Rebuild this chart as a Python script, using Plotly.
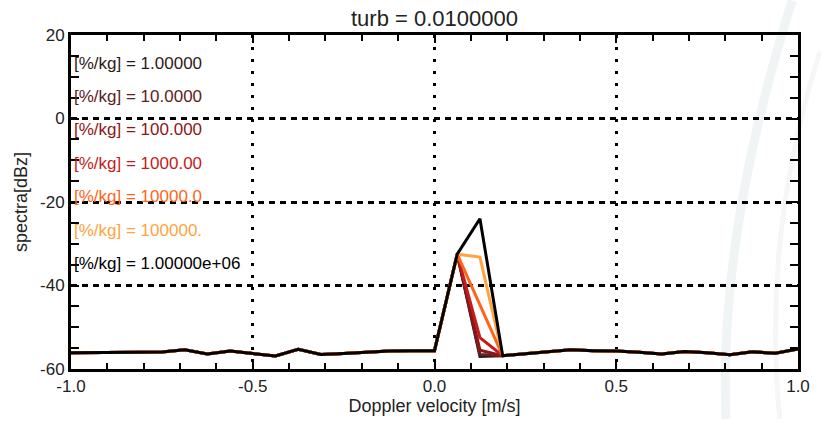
import plotly.graph_objects as go

# ---------------- data ----------------
velocity = [-1.0, -0.9375, -0.875, -0.8125, -0.75, -0.6875, -0.625, -0.5625,
            -0.5, -0.4375, -0.375, -0.3125, -0.25, -0.1875, -0.125, -0.0625,
            0.0, 0.0625, 0.125, 0.1875, 0.25, 0.3125, 0.375, 0.4375,
            0.5, 0.5625, 0.625, 0.6875, 0.75, 0.8125, 0.875, 0.9375, 1.0]

# spectrum shared by all series (value at 0.125 m/s differs per series)
spectrum_common = [-56.1, -56.1, -56.0, -56.0, -55.9, -55.4, -56.4, -55.7,
                   -56.3, -56.9, -55.3, -56.5, -56.3, -56.0, -55.7, -55.6,
                   -55.6, -32.5, None, -56.8, -56.3, -55.8, -55.4, -55.6,
                   -55.7, -56.0, -56.4, -55.8, -56.1, -56.6, -55.9, -56.2, -55.2]

peak_velocity = 0.125
peak_values = [-57.0, -56.5, -55.5, -52.5, -44.5, -33.2, -24.0]

series_labels = ["[%/kg] = 1.00000", "[%/kg] = 10.0000", "[%/kg] = 100.000",
                 "[%/kg] = 1000.00", "[%/kg] = 10000.0", "[%/kg] = 100000.",
                 "[%/kg] = 1.00000e+06"]
series_colors = ["#2e1a1a", "#5e2222", "#8e1616", "#c41c1c", "#ff6418",
                 "#ffa440", "#000000"]

title_text = "turb = 0.0100000"
x_title = "Doppler velocity [m/s]"
y_title = "spectra[dBz]"
x_ticks = [-1.0, -0.5, 0.0, 0.5, 1.0]
x_ticklabels = ["-1.0", "-0.5", "0.0", "0.5", "1.0"]
y_ticks = [20, 0, -20, -40, -60]
y_ticklabels = ["20", "0", "-20", "-40", "-60"]

FONT = "Liberation Sans, Arial, Helvetica, sans-serif"

fig = go.Figure()

peak_idx = velocity.index(peak_velocity)
for label, color, pv in zip(series_labels, series_colors, peak_values):
    yvals = list(spectrum_common)
    yvals[peak_idx] = pv
    fig.add_trace(go.Scatter(x=velocity, y=yvals, mode="lines", name=label,
                             line=dict(color=color, width=3),
                             showlegend=False, hoverinfo="skip"))

# in-plot text legend
top_px, step_px = 63.5, 33.9
plot_top, plot_h = 35, 339
for i, (label, color) in enumerate(zip(series_labels, series_colors)):
    ypx = top_px + i * step_px
    fig.add_annotation(x=0.002, y=1 - (ypx - plot_top) / plot_h,
                       xref="paper", yref="paper", xanchor="left",
                       yanchor="middle", text=label, showarrow=False,
                       font=dict(family=FONT, size=17, color=color))

# faint background watermark arcs
fig.add_shape(type="path", xref="paper", yref="paper", layer="below",
              path="M 0.992,1.103 Q 0.89,0.40 0.901,-0.150",
              line=dict(color="rgba(222,230,230,0.45)", width=9))
fig.add_shape(type="path", xref="paper", yref="paper", layer="below",
              path="M 1.03,0.95 Q 0.95,0.40 0.975,-0.150",
              line=dict(color="rgba(225,230,233,0.35)", width=5))

axis_common = dict(showline=True, linecolor="black", linewidth=3,
                   mirror="ticks", ticks="inside", tickcolor="black",
                   tickwidth=2, ticklen=8, zeroline=False,
                   showgrid=True, gridcolor="black", gridwidth=2.5,
                   tickfont=dict(family=FONT, size=17, color="#222"))

fig.update_xaxes(range=[-1, 1], tickvals=x_ticks, ticktext=x_ticklabels,
                 griddash="3px,9px",
                 minor=dict(dtick=0.1, tick0=0, ticks="inside", ticklen=6,
                            tickwidth=2, tickcolor="black", showgrid=False),
                 title=dict(text=x_title, standoff=4,
                            font=dict(family=FONT, size=18, color="#222")),
                 **axis_common)
fig.update_yaxes(range=[-60, 20], tickvals=y_ticks, ticktext=y_ticklabels,
                 griddash="6px,5px",
                 minor=dict(dtick=5, tick0=0, ticks="inside", ticklen=8,
                            tickwidth=2, tickcolor="black", showgrid=False),
                 title=dict(text=y_title, standoff=8,
                            font=dict(family=FONT, size=18, color="#222")),
                 **axis_common)

fig.update_layout(
    width=822, height=425,
    margin=dict(l=71, r=16, t=35, b=51),
    paper_bgcolor="white", plot_bgcolor="rgba(0,0,0,0)",
    title=dict(text=title_text, x=0.5, xref="paper", xanchor="center",
               y=1 - 18 / 425, yref="container", yanchor="middle",
               font=dict(family=FONT, size=22, color="#222")),
)

fig.write_html("out.html")
